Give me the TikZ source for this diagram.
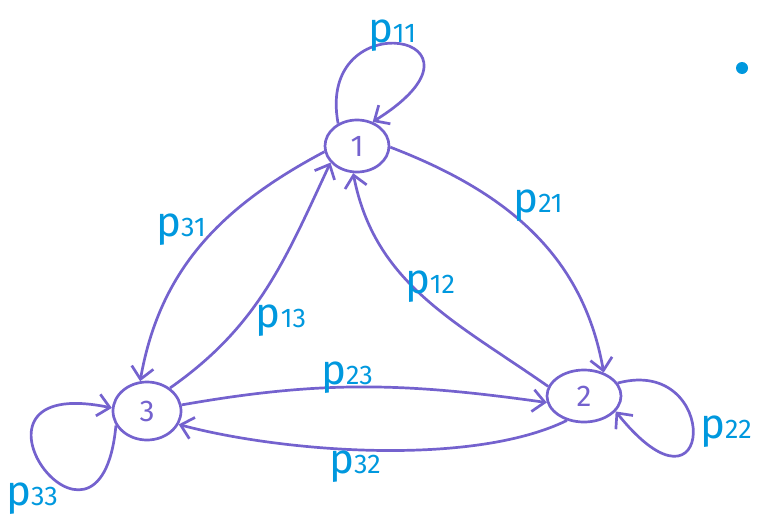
\documentclass[tikz,border=0pt]{standalone}
\usepackage{fontspec}
\setmainfont{Fira Sans}
\usetikzlibrary{arrows.meta,shapes.geometric}

\definecolor{ink}{RGB}{116,98,206}
\definecolor{pen}{RGB}{0,152,222}

% transition label: a large p followed by its index
\newcommand\plab[1]{{\fontsize{42}{42}\selectfont p}{\fontsize{27}{27}\selectfont #1}}

\begin{document}
\begin{tikzpicture}[x=1pt,y=1pt,
  state/.style={ellipse, draw=ink, line width=2.7pt, text=ink, inner sep=0pt,
                font=\fontsize{30}{30}\selectfont},
  trans/.style={draw=ink, line width=2.7pt,
                -{Straight Barb[length=12pt,width=22pt]}},
  prob/.style={text=pen, inner sep=0pt}]
\useasboundingbox (0,0) rectangle (757,-525);

% states
\node[state, minimum width=64pt, minimum height=52pt] (n1) at (357,-146) {1};
\node[state, minimum width=74pt, minimum height=52pt] (n2) at (584,-396) {2};
\node[state, minimum width=68pt, minimum height=58pt] (n3) at (147,-411) {3};

% self loops
\draw[trans] (n1.130) .. controls (315,0) and (512,-35) .. (n1.57);
\draw[trans] (n2.21) .. controls (722,-355) and (715,-535) .. (n2.334);
\draw[trans] (n3.205) .. controls (100,-595) and (-62,-372) .. (n3.175);

% transitions between states
\draw[trans] (n1.358) to[out=-21, in=100] (n2.50);
\draw[trans] (n2.165) to[out=145, in=-79] (n1.262);
\draw[trans] (n1.190) to[out=208, in=80] (n3.103);
\draw[trans] (n3.45) to[out=35, in=-115] (n1.212);
\draw[trans] (n3.10) to[out=10, in=172] (n2.190);
\draw[trans] (n2.235) to[out=206, in=-15, looseness=0.7] (n3.337);

% probabilities
\node[prob] (l11) at (392,-36) {\plab{11}};
\node[prob] (l21) at (538,-206) {\plab{21}};
\node[prob] (l12) at (430,-287) {\plab{12}};
\node[prob] (l31) at (181,-230) {\plab{31}};
\node[prob] (l13) at (281,-321) {\plab{13}};
\node[prob] (l23) at (347,-378) {\plab{23}};
\node[prob] (l32) at (355,-467) {\plab{32}};
\node[prob] (l22) at (726,-432) {\plab{22}};
\node[prob] (l33) at (32,-499) {\plab{33}};

% ink dot
\fill[pen] (742,-68) circle (6pt);
\end{tikzpicture}
\end{document}
